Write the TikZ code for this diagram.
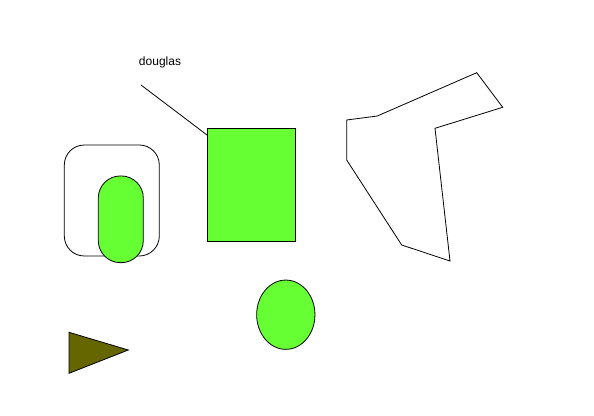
\documentclass[tikz,border=0pt]{standalone}
\usepackage{fontspec}
\setmainfont{Liberation Sans}
\usetikzlibrary{shapes.geometric}
\definecolor{leaf}{RGB}{102,255,51}
\definecolor{olivebrown}{RGB}{102,102,0}
\begin{document}
\begin{tikzpicture}
	[ x=1pt, y=-1pt,
	  line width=0.8pt,
	  outline/.style={draw,inner sep=0pt},
	  leafy/.style={outline,fill=leaf},
	  key/.style={font=\fontsize{12}{14}\selectfont} ]
	
	\useasboundingbox (0,0) rectangle (594,415);
	
	\node[outline,rounded corners=20pt,minimum width=95pt,minimum height=111pt] (frame) at (111.8,200.5) {};
	\node[leafy,rounded corners=22pt,minimum width=45pt,minimum height=86.7pt] (pill) at (120.8,219.3) {};
	\node[leafy,minimum width=88.7pt,minimum height=113.3pt] (box) at (251.4,184.7) {};
	\node[leafy,ellipse,minimum width=58.3pt,minimum height=69.3pt] (egg) at (285.8,314.7) {};
	
	\node[key] (name) at (160,62) {douglas};
	\coordinate (tail) at (141,85);
	\coordinate (head) at (207,135);
	\draw (tail) -- (head);
	
	\draw (476.7,72.7) -- (502.7,107.3) -- (435,128.3) -- (450,261) -- (401.7,245)
		-- (346.7,160) -- (346.7,120) -- (377.3,116) -- cycle;
	
	\draw[fill=olivebrown] (69,332.3) -- (128.3,350) -- (69,373.3) -- cycle;
	
\end{tikzpicture}
\end{document}
